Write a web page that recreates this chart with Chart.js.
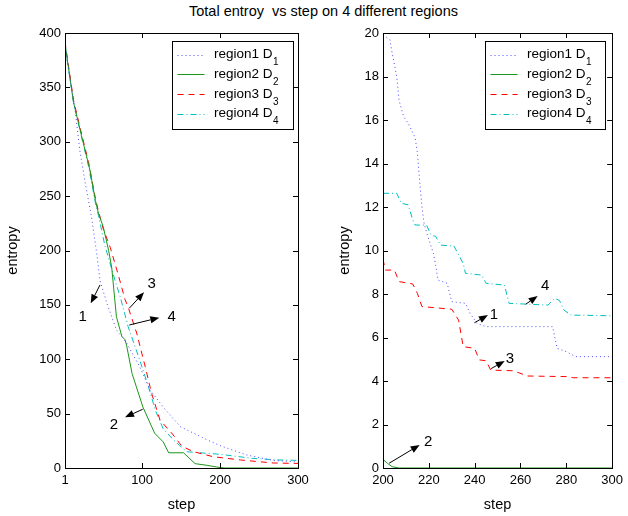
<!DOCTYPE html>
<html><head><meta charset="utf-8">
<script src="https://cdn.jsdelivr.net/npm/chart.js@4.4.1/dist/chart.umd.min.js"></script>
<style>
html,body{margin:0;padding:0;background:#fff;width:628px;height:516px;overflow:hidden;}
#title{position:absolute;left:0;width:647px;top:3px;line-height:16px;text-align:center;font-size:14.5px;font-family:"Liberation Sans",Arial,sans-serif;color:#000;white-space:pre;}
canvas{position:absolute;top:0;}
</style></head><body>
<div id="title">Total entroy  vs step on 4 different regions</div>
<canvas id="left" width="320" height="516" style="left:0"></canvas>
<canvas id="right" width="308" height="516" style="left:320px"></canvas>
<script>
// ---------- data: left panel (steps 1..300) ----------
const r1StepsL = [1, 8, 14, 20, 27, 35, 42, 46, 55, 67, 80, 97, 110, 127, 149, 183, 202, 234, 268, 300];
const r1ValsL  = [390, 355, 329, 292, 262, 231, 196, 172, 151, 127, 115, 93, 72, 56, 38, 26, 20, 12, 7, 5.5];
const r2StepsL = [1, 12, 22, 31, 33, 40, 44, 50, 57, 61, 67, 74, 78, 80, 87, 101, 116, 127, 134, 153, 168, 183, 195, 200, 207, 300];
const r2ValsL  = [390, 336, 306, 280, 274, 246, 234, 222, 200, 184, 139, 121, 118, 113, 87, 56, 32, 24, 14, 14, 4, 2.5, 1, 0.4, 0, 0];
const r3StepsL = [1, 12, 22, 31, 40, 44, 50, 59, 70, 78, 82, 93, 104, 112, 123, 138, 151, 166, 191, 226, 268, 300];
const r3ValsL  = [392, 338, 308, 282, 248, 236, 220, 203, 176, 155, 148, 124, 93, 69, 44, 32, 20, 15, 10.4, 7.4, 4.6, 4.2];
const r4StepsL = [1, 12, 22, 31, 40, 44, 52, 65, 72, 82, 97, 108, 117, 127, 140, 157, 183, 200, 240, 270, 300];
const r4ValsL  = [388, 336, 305, 278, 244, 232, 205, 173, 157, 130, 99, 75, 53, 36, 26, 15, 13.5, 12.6, 9, 7.5, 7];

// ---------- data: right panel (steps 200..300) ----------
const r1StepsR = [200, 203, 204, 206, 207, 209, 211, 214, 215, 216, 217, 218, 220, 222, 223, 224, 228, 230, 236, 238, 241, 245, 274, 276, 280, 284, 300];
const r1ValsR  = [19.9, 19.7, 19.07, 18, 16.9, 16.15, 15.85, 15.2, 14.5, 13.2, 12.0, 11.2, 10.5, 9.87, 9.3, 8.64, 8.49, 7.65, 7.57, 7.11, 6.65, 6.5, 6.5, 5.5, 5.35, 5.12, 5.12];
const r2StepsR = [200, 202, 204, 207, 300];
const r2ValsR  = [0.4, 0.21, 0.06, 0, 0];
const r3StepsR = [200, 201, 205, 207, 213, 215, 217, 230, 233, 235, 240, 242, 245, 247, 257, 263, 281, 283, 300];
const r3ValsR  = [9.6, 9.1, 9.1, 8.57, 8.46, 8.03, 7.42, 7.3, 6.8, 5.58, 5.5, 4.97, 4.93, 4.5, 4.47, 4.23, 4.2, 4.15, 4.15];
const r4StepsR = [200, 206, 208, 211, 213, 214, 219, 221, 223, 225, 231, 233, 235, 236, 243, 245, 253, 255, 272, 275, 277, 279, 282, 300];
const r4ValsR  = [12.63, 12.63, 12.17, 12.1, 11.4, 11.17, 11.17, 10.7, 10.65, 10.25, 10.2, 9.8, 9.4, 8.95, 8.87, 8.49, 8.41, 7.57, 7.49, 7.8, 7.7, 7.26, 7.03, 7.0];

// ---------- labels & ticks ----------
const seriesLabels = ['region1 D', 'region2 D', 'region3 D', 'region4 D'];
const seriesSubs   = ['1', '2', '3', '4'];
const xTicksLeft   = [1, 100, 200, 300];
const xTicksRight  = [200, 220, 240, 260, 280, 300];
const yTicksLeft   = [0, 50, 100, 150, 200, 250, 300, 350, 400];
const yTicksRight  = [0, 2, 4, 6, 8, 10, 12, 14, 16, 18, 20];

// annotation arrows (data coordinates): from, to, label, label position
const arrowsLeft = [
  {from: [45.9, 168.3], to: [34, 151.4], text: '1', at: [23.7, 139]},
  {from: [83.5, 146.9], to: [102.4, 161.6], text: '3', at: [112.3, 169.2]},
  {from: [83.5, 131.5], to: [122, 138.2], text: '4', at: [138, 138.6]},
  {from: [100.7, 54], to: [78, 46.6], text: '2', at: [63.9, 39.5]}
];
const arrowsRight = [
  {from: [262.3, 7.53], to: [267.5, 7.91], text: '4', at: [270.8, 8.37]},
  {from: [239.9, 6.68], to: [245.8, 7.03], text: '1', at: [248.4, 7.03]},
  {from: [247.2, 4.57], to: [253.1, 4.92], text: '3', at: [255.4, 5.0]},
  {from: [202.7, 0.22], to: [216, 1.06], text: '2', at: [219.7, 1.21]}
];

// ---------- styles ----------
const FONT = '"Liberation Sans", Arial, Helvetica, sans-serif';
const lineStyles = [
  {color: '#4a4aff', dash: [1, 3]},
  {color: '#1a961a', dash: []},
  {color: '#ff0000', dash: [6, 5]},
  {color: '#00bfbf', dash: [6, 3, 1, 3]}
];

function pts(xs, ys) { return xs.map((x, i) => ({x: x, y: ys[i]})); }

function makeDatasets(pairs) {
  return pairs.map((p, i) => ({
    label: seriesLabels[i],
    data: pts(p[0], p[1]),
    borderColor: lineStyles[i].color,
    borderDash: lineStyles[i].dash,
    borderWidth: 1,
    pointRadius: 0,
    tension: 0,
    fill: false
  }));
}

const matFrame = {
  id: 'matFrame',
  afterDraw(chart, args, opts) {
    const ctx = chart.ctx;
    const a = chart.chartArea;
    const xs = chart.scales.x, ys = chart.scales.y;
    ctx.save();
    ctx.strokeStyle = '#000';
    ctx.lineWidth = 1;
    ctx.setLineDash([]);
    // box
    ctx.strokeRect(Math.round(a.left) + 0.5, Math.round(a.top) + 0.5, Math.round(a.right - a.left), Math.round(a.bottom - a.top));
    // inward ticks
    const tl = 5;
    ctx.beginPath();
    xs.ticks.forEach(t => {
      const px = Math.round(xs.getPixelForValue(t.value)) + 0.5;
      if (px < a.left + 2 || px > a.right - 2) return;
      ctx.moveTo(px, a.bottom); ctx.lineTo(px, a.bottom - tl);
      ctx.moveTo(px, a.top); ctx.lineTo(px, a.top + tl);
    });
    ys.ticks.forEach(t => {
      const py = Math.round(ys.getPixelForValue(t.value)) + 0.5;
      if (py < a.top + 2 || py > a.bottom - 2) return;
      ctx.moveTo(a.left, py); ctx.lineTo(a.left + tl, py);
      ctx.moveTo(a.right, py); ctx.lineTo(a.right - tl, py);
    });
    ctx.stroke();

    // arrows
    (opts.arrows || []).forEach(ar => {
      const x1 = xs.getPixelForValue(ar.from[0]), y1 = ys.getPixelForValue(ar.from[1]);
      const x2 = xs.getPixelForValue(ar.to[0]), y2 = ys.getPixelForValue(ar.to[1]);
      const ang = Math.atan2(y2 - y1, x2 - x1);
      const hl = 9, hw = 3.6;
      const bx = x2 - hl * Math.cos(ang), by = y2 - hl * Math.sin(ang);
      ctx.strokeStyle = '#000';
      ctx.beginPath();
      ctx.moveTo(x1, y1); ctx.lineTo(bx, by);
      ctx.stroke();
      ctx.beginPath();
      ctx.moveTo(x2, y2);
      ctx.lineTo(bx + hw * Math.sin(ang), by - hw * Math.cos(ang));
      ctx.lineTo(bx - hw * Math.sin(ang), by + hw * Math.cos(ang));
      ctx.closePath();
      ctx.fillStyle = '#000';
      ctx.fill();
      ctx.font = '15px ' + FONT;
      ctx.textAlign = 'center';
      ctx.textBaseline = 'middle';
      ctx.fillText(ar.text, xs.getPixelForValue(ar.at[0]), ys.getPixelForValue(ar.at[1]));
    });

    // legend
    const L = opts.legend;
    const bw = L.w, bh = L.h;
    const bl = Math.round(a.right - L.right - bw) + 0.5, bt = Math.round(a.top + L.top) + 0.5;
    ctx.fillStyle = '#fff';
    ctx.fillRect(bl, bt, bw, bh);
    ctx.strokeStyle = '#000';
    ctx.strokeRect(bl, bt, bw, bh);
    seriesLabels.forEach((label, i) => {
      const cy = bt + 13 + i * 19.7;
      const ly = Math.round(cy) + 0.5;
      ctx.save();
      ctx.lineWidth = 1;
      ctx.strokeStyle = lineStyles[i].color;
      ctx.setLineDash(lineStyles[i].dash);
      ctx.beginPath();
      ctx.moveTo(bl + 5, ly);
      ctx.lineTo(bl + 32, ly);
      ctx.stroke();
      ctx.restore();
      ctx.fillStyle = '#000';
      ctx.textAlign = 'left';
      ctx.textBaseline = 'middle';
      ctx.font = '13.5px ' + FONT;
      const tx = bl + 41.5;
      ctx.fillText(label, tx, cy);
      const w = ctx.measureText(label).width;
      ctx.font = '10px ' + FONT;
      ctx.fillText(seriesSubs[i], tx + w + 0.5, cy + 8);
    });
    ctx.restore();
  }
};

function buildChart(id, cfg) {
  const tickFont = {family: FONT, size: 13};
  const titleFont = {family: FONT, size: 14.5};
  return new Chart(document.getElementById(id), {
    type: 'line',
    data: {datasets: makeDatasets(cfg.pairs)},
    options: {
      responsive: false,
      animation: false,
      events: [],
      layout: {padding: {left: 0, right: cfg.padRight, top: 33, bottom: 0}},
      plugins: {
        legend: {display: false},
        tooltip: {enabled: false},
        title: {display: false},
        matFrame: {arrows: cfg.arrows, legend: cfg.legend}
      },
      scales: {
        x: {
          type: 'linear', min: cfg.xMin, max: cfg.xMax,
          afterBuildTicks: s => { s.ticks = cfg.xTicks.map(v => ({value: v})); },
          afterFit: s => { s.height = 48; },
          grid: {display: false, drawTicks: false},
          border: {display: false},
          ticks: {font: tickFont, color: '#000', padding: 5, maxRotation: 0, autoSkip: false},
          title: {display: true, text: 'step', font: titleFont, color: '#000', padding: {top: 0, bottom: 2.3}}
        },
        y: {
          type: 'linear', min: cfg.yMin, max: cfg.yMax,
          afterBuildTicks: s => { s.ticks = cfg.yTicks.map(v => ({value: v})); },
          afterFit: s => { s.width = cfg.yWidth; },
          grid: {display: false, drawTicks: false},
          border: {display: false},
          ticks: {font: tickFont, color: '#000', padding: 4, autoSkip: false},
          title: {display: true, text: 'entropy', font: titleFont, color: '#000', padding: {top: cfg.yTitlePad, bottom: 0}}
        }
      }
    },
    plugins: [matFrame]
  });
}

buildChart('left', {
  pairs: [[r1StepsL, r1ValsL], [r2StepsL, r2ValsL], [r3StepsL, r3ValsL], [r4StepsL, r4ValsL]],
  xMin: 1, xMax: 300, yMin: 0, yMax: 400,
  xTicks: xTicksLeft, yTicks: yTicksLeft,
  padRight: 22, yWidth: 65, yTitlePad: 4.3,
  arrows: arrowsLeft,
  legend: {w: 121, h: 88, right: 5, top: 8}
});
buildChart('right', {
  pairs: [[r1StepsR, r1ValsR], [r2StepsR, r2ValsR], [r3StepsR, r3ValsR], [r4StepsR, r4ValsR]],
  xMin: 200, xMax: 300, yMin: 0, yMax: 20,
  xTicks: xTicksRight, yTicks: yTicksRight,
  padRight: 10, yWidth: 63, yTitlePad: 16.3,
  arrows: arrowsRight,
  legend: {w: 120, h: 88, right: 7, top: 8}
});
</script></body></html>
